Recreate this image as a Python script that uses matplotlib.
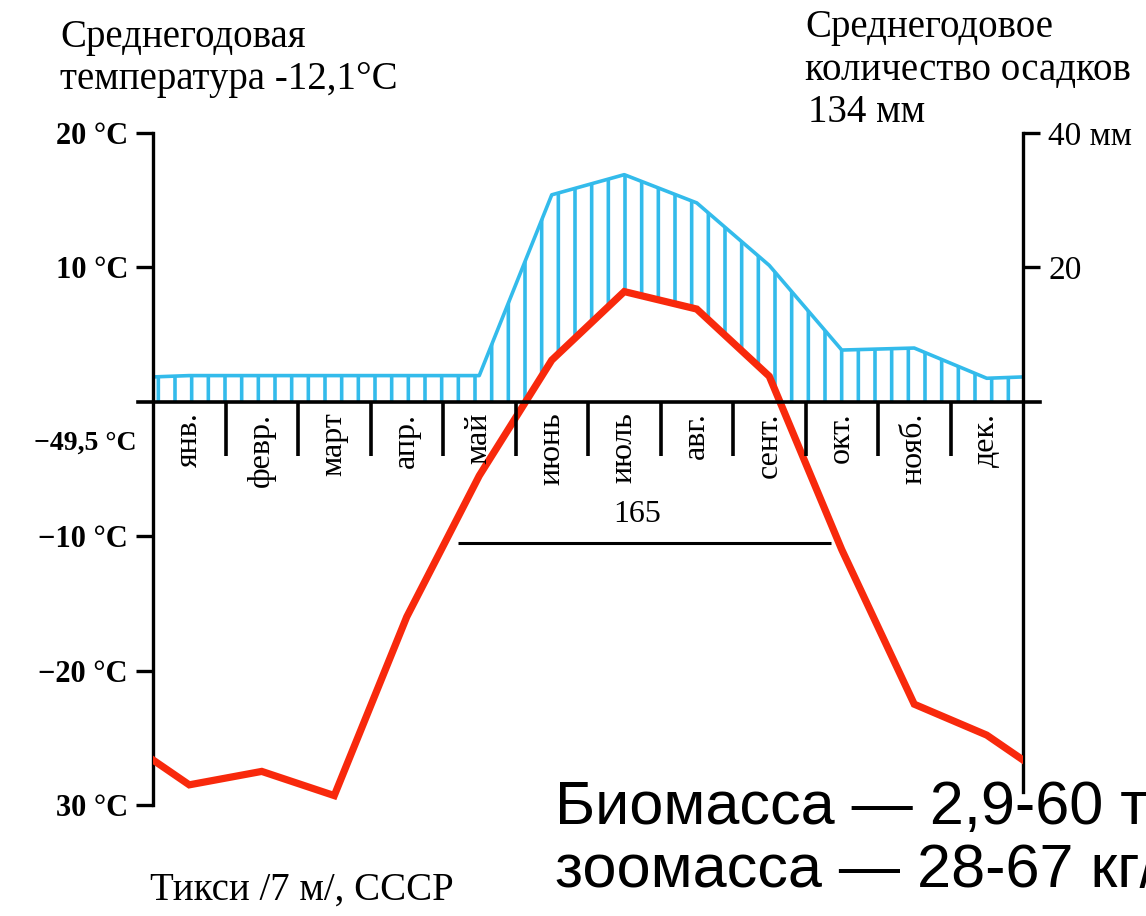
import numpy as np
import matplotlib
matplotlib.use("Agg")
import matplotlib.pyplot as plt

# monthly data
months = ["янв.", "февр.", "март", "апр.", "май", "июнь",
          "июль", "авг.", "сент.", "окт.", "нояб.", "дек."]
temp_c = [-28.5, -27.5, -29.3, -16.0, -5.5, 3.1, 8.2, 6.9, 1.9, -11.0, -22.5, -24.8]
precip_mm = [3.9, 3.9, 3.9, 3.9, 3.9, 30.8, 33.8, 29.6, 20.3, 7.7, 8.0, 3.5]

temp_ticks = [20, 10, -10, -20, -30]
temp_labels = ["20 °C", "10 °C", "−10 °C", "−20 °C", "30 °C"]
precip_ticks = [20, 40]
precip_labels = ["20", "40 мм"]
abs_min_label = "−49,5 °C"
frost_free = (4.2, 9.35)
frost_free_days = "165"

RED = "#f8290c"
BLUE = "#33bbeb"
SERIF = "Liberation Serif"

plt.rcParams["hatch.linewidth"] = 2.6
plt.rcParams["hatch.color"] = BLUE

fig = plt.figure(figsize=(11.46, 9.16), dpi=100)
ax = fig.add_axes([153 / 1146, 1 - 805 / 916, 870 / 1146, 672 / 916])
ax.set_xlim(0, 12)
ax.set_ylim(-30, 20)

# wrap dec/jan around the edges
x = np.arange(-1, 13) + 0.5
t = np.array([temp_c[-1]] + temp_c + [temp_c[0]])
p = np.array([precip_mm[-1]] + precip_mm + [precip_mm[0]])

# precipitation on twin axis, 20 mm = 10 °C
tw = ax.twinx()
tw.set_ylim(-60, 40)
xf = np.linspace(-0.5, 12.5, 2000)
pf = np.interp(xf, x, p)
tf = np.maximum(np.interp(xf, x, t) * 2, 0)
tw.fill_between(xf, tf, pf, where=pf > tf, facecolor="none", edgecolor=BLUE,
                hatch="|", linewidth=0)
tw.plot(x, p, color=BLUE, lw=2.6)

ax.plot(x, t, color=RED, lw=5.2, solid_joinstyle="miter", zorder=5)
ax.set_zorder(tw.get_zorder() + 1)
ax.patch.set_visible(False)

# axes styling
for s in ["top", "bottom", "right"]:
    ax.spines[s].set_visible(False)
for s in ["top", "bottom", "left"]:
    tw.spines[s].set_visible(False)
ax.spines["left"].set_linewidth(2.4)
tw.spines["right"].set_linewidth(2.4)
tw.spines["right"].set_bounds(-58, 40)
ax.set_xticks([])

ax.set_yticks(temp_ticks)
ax.set_yticklabels(temp_labels, fontfamily=SERIF, fontsize=22, fontweight="bold")
ax.tick_params(axis="y", direction="out", length=12, width=2.4, pad=6)
tw.set_yticks(precip_ticks)
tw.set_yticklabels(precip_labels, fontfamily=SERIF, fontsize=24)
tw.tick_params(axis="y", direction="out", length=12, width=2.4, pad=6)

ax.axhline(0, xmin=-0.017, xmax=1.02, color="black", lw=2.6, clip_on=False, zorder=6)
ax.vlines(np.arange(1, 12), -4, 0, color="black", lw=2.6, zorder=6)
for i, m in enumerate(months):
    ax.text(i + 0.5, -0.8, m, rotation=90, ha="center", va="top",
            fontfamily=SERIF, fontsize=23, zorder=7)

ax.text(-0.22, -3.1, abs_min_label, ha="right", va="center",
        fontfamily=SERIF, fontsize=20, fontweight="bold")

# frost-free period
ax.hlines(-10.5, frost_free[0], frost_free[1], color="black", lw=2.2)
ax.text(sum(frost_free) / 2 - 0.1, -8.4, frost_free_days, ha="center", va="center",
        fontfamily=SERIF, fontsize=23)

fig.text(60 / 1146, 1 - 38 / 916, "Среднегодовая", fontfamily=SERIF, fontsize=28, va="center")
fig.text(60 / 1146, 1 - 80 / 916, "температура -12,1°C", fontfamily=SERIF, fontsize=28, va="center")
fig.text(805 / 1146, 1 - 28 / 916, "Среднегодовое", fontfamily=SERIF, fontsize=28, va="center")
fig.text(805 / 1146, 1 - 70 / 916, "количество осадков", fontfamily=SERIF, fontsize=28, va="center")
fig.text(808 / 1146, 1 - 112 / 916, "134 мм", fontfamily=SERIF, fontsize=28, va="center")
fig.text(150 / 1146, 1 - 890 / 916, "Тикси /7 м/, СССР", fontfamily=SERIF, fontsize=28, va="center")

fig.text(555 / 1146, 1 - 808 / 916, "Биомасса — 2,9-60 т/га", fontfamily="Liberation Sans",
         fontsize=44, va="center")
fig.text(555 / 1146, 1 - 872 / 916, "зоомасса — 28-67 кг/га", fontfamily="Liberation Sans",
         fontsize=44, va="center")

fig.savefig("out.png", dpi=100)
